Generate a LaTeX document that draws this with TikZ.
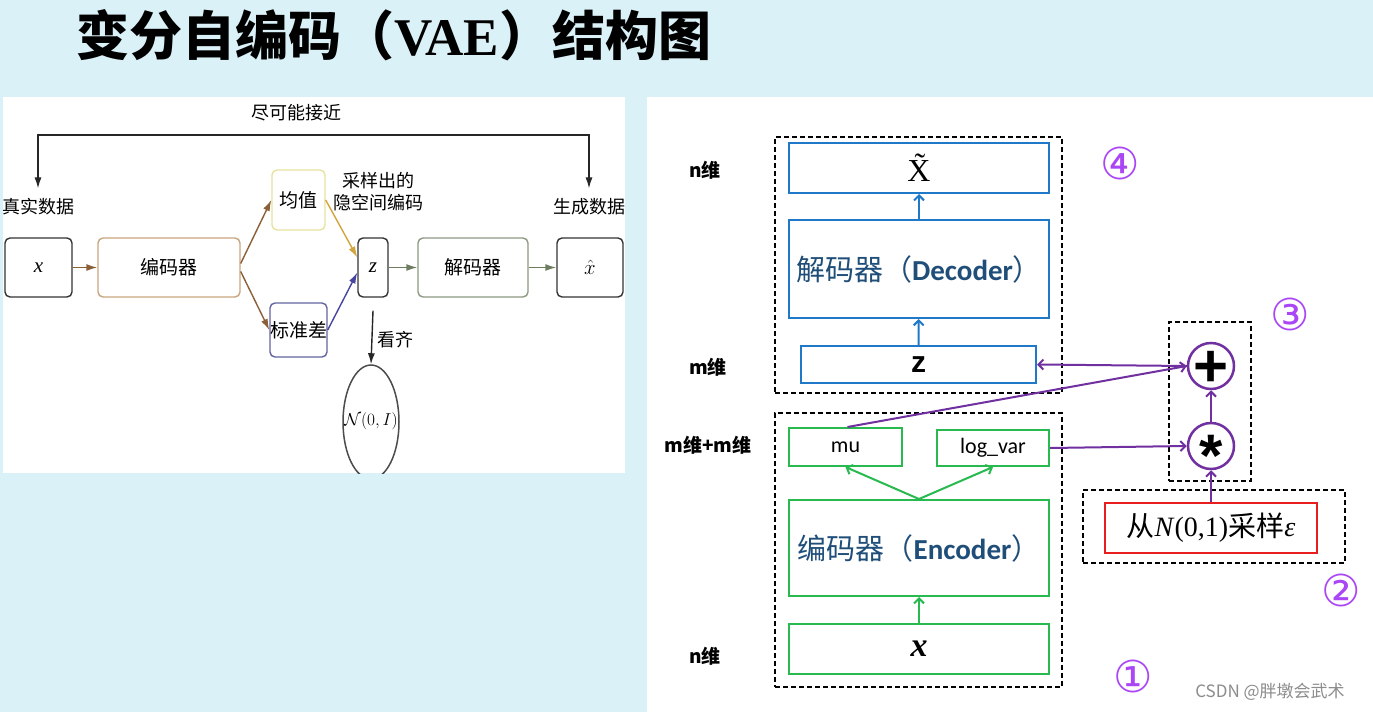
\documentclass[tikz,border=0pt]{standalone}
\usepackage{fontspec}
\setmainfont{Liberation Serif}
\setsansfont{Carlito}
\newfontfamily\cjk{Noto Sans CJK SC}
\newfontfamily\djv{DejaVu Sans}
\newfontfamily\lsans{Liberation Sans}
\usetikzlibrary{arrows.meta,shapes.geometric}
\definecolor{bgc}{RGB}{218,241,247}
\definecolor{bluec}{RGB}{31,120,200}
\definecolor{greenc}{RGB}{40,186,78}
\definecolor{purc}{RGB}{112,48,160}
\definecolor{numc}{RGB}{170,70,245}
\definecolor{dbluec}{RGB}{31,78,121}
\definecolor{redc}{RGB}{232,30,30}
\definecolor{brownc}{RGB}{139,95,55}
\definecolor{encc}{RGB}{200,165,125}
\definecolor{meanc}{RGB}{232,226,160}
\definecolor{stdc}{RGB}{100,100,160}
\definecolor{goldc}{RGB}{210,165,60}
\definecolor{sblue}{RGB}{70,70,160}
\definecolor{gdec}{RGB}{110,125,95}
\definecolor{decc}{RGB}{140,155,130}
\begin{document}
\begin{tikzpicture}[x=1pt,y=-1pt,
  lbox/.style={draw, rounded corners=5pt, line width=1.4pt, inner sep=0pt, font=\cjk\fontsize{19}{19}\selectfont},
  ltxt/.style={inner sep=0pt, font=\cjk\fontsize{18}{18}\selectfont},
  rbox/.style={draw, line width=2pt, inner sep=0pt},
  dbox/.style={draw, dashed, dash pattern=on 5pt off 3pt, line width=1.5pt, inner sep=0pt},
  larr/.style={-{Latex[length=11pt,width=7pt]}, line width=1.4pt},
  rarr/.style={-{Straight Barb[length=5pt,width=10pt]}, line width=2pt},
  dimlbl/.style={inner sep=0pt, font=\cjk\bfseries\fontsize{19}{19}\selectfont},
  cnum/.style={inner sep=0pt, text=numc, font=\djv\fontsize{44}{44}\selectfont},
  opc/.style={circle, draw=purc, line width=2.5pt, fill=white, minimum size=46pt, inner sep=0pt},
  optxt/.style={inner sep=0pt, anchor=base, font=\lsans\bfseries\fontsize{60}{60}\selectfont}
]
\useasboundingbox (0,0) rectangle (1373,712);
\fill[bgc] (0,0) rectangle (1373,712);
\fill[white] (3,97) rectangle (625,473);
\fill[white] (647,97) rectangle (1373,712);

% title
\node[anchor=west, inner sep=0pt] (title) at (76,35) {\fontsize{53}{53}\selectfont\cjk\bfseries 变分自编码（{\rmfamily VAE}）结构图};

% ---------- left panel ----------
\node[lbox, draw=black!80, minimum width=67pt, minimum height=59pt] (lx) at (38.5,267.5) {\rmfamily\itshape\fontsize{21}{21}\selectfont x};
\node[lbox, draw=encc, minimum width=142pt, minimum height=59pt] (lenc) at (169,267.5) {编码器};
\node[lbox, draw=meanc, minimum width=53pt, minimum height=60pt] (lmean) at (298.5,200) {均值};
\node[lbox, draw=stdc, minimum width=53pt, minimum height=54pt] (lstd) at (298.5,330) {标准差};
\node[lbox, draw=black!80, minimum width=30pt, minimum height=59pt] (lz) at (373,267.5) {\rmfamily\itshape\fontsize{21}{21}\selectfont z};
\node[lbox, draw=decc, minimum width=110pt, minimum height=59pt] (ldec) at (473,267.5) {解码器};
\node[lbox, draw=black!80, minimum width=66pt, minimum height=59pt] (lxh) at (590,267.5) {\fontsize{21}{21}\selectfont$\hat{x}$};

\node[ltxt] (lreal) at (38,207) {真实数据};
\node[ltxt] (lgen) at (589,207) {生成数据};
\node[ltxt] (lclose) at (296,113) {尽可能接近};
\node[ltxt, align=center] (lsamp) at (378,192) {采样出的\\[4pt]隐空间编码};
\node[ltxt] (lalign) at (395,340) {看齐};
\coordinate (tl) at (38,135);
\coordinate (tr) at (590,135);
\draw[larr, black!85] (tr) -| ([yshift=10pt]lreal.north);
\draw[larr, black!85] (tl) -| ([yshift=10pt]lgen.north);

\draw[larr, brownc] (lx) -- (lenc);
\draw[larr, brownc] ([yshift=4pt]lenc.east) -- (lmean.west);
\draw[larr, brownc] ([yshift=-4pt]lenc.east) -- (lstd.west);
\draw[larr, goldc] (lmean.east) -- ([yshift=10pt]lz.west);
\draw[larr, sblue] (lstd.east) -- ([yshift=-5pt]lz.west);
\draw[larr, gdec] (lz) -- (ldec);
\draw[larr, gdec] (ldec) -- (lxh);

\begin{scope}
\clip (3,97) rectangle (625,473);
\node[draw=black!70, line width=1.5pt, ellipse, minimum width=56pt, minimum height=114pt, inner sep=0pt] (lnorm) at (371,422) {};
\end{scope}
\node[inner sep=0pt, font=\fontsize{19}{19}\selectfont] (lnormt) at (371,421) {$\mathcal{N}(0,I)$};
\draw[larr, black!85] ([yshift=-13pt]lz.south) -- (lnorm.north);

% ---------- right panel ----------
\node[dbox, minimum width=287pt, minimum height=256pt] (decg) at (918.5,265) {};
\node[dbox, minimum width=287pt, minimum height=274pt] (encg) at (918.5,550) {};

\node[rbox, draw=bluec, minimum width=260pt, minimum height=50pt, fill=white] (xt) at (919,168) {\fontsize{32}{32}\selectfont\~{X}};
\node[rbox, draw=bluec, minimum width=260pt, minimum height=98pt] (dec) at (919,269) {\fontsize{29}{29}\selectfont\color{dbluec}\raisebox{-6pt}{\cjk 解码器（{\sffamily\bfseries Decoder}）}};
\node[rbox, draw=bluec, minimum width=235pt, minimum height=37pt] (zb) at (918.5,364.5) {\lsans\bfseries\fontsize{30}{30}\selectfont z};
\draw[rarr, bluec] (dec) -- (xt);
\draw[rarr, bluec] (zb) -- (dec);

\node[rbox, draw=greenc, minimum width=113pt, minimum height=38pt] (mu) at (845.5,447) {\sffamily\fontsize{22}{22}\selectfont mu};
\node[rbox, draw=greenc, minimum width=112pt, minimum height=36pt] (lv) at (993,448) {\sffamily\fontsize{22}{22}\selectfont log\_var};
\node[rbox, draw=greenc, minimum width=260pt, minimum height=96pt] (enc) at (919,548) {\fontsize{29}{29}\selectfont\color{dbluec}\cjk 编码器（{\sffamily\bfseries Encoder}）};
\node[rbox, draw=greenc, minimum width=260pt, minimum height=50pt] (xb) at (919,649) {\bfseries\itshape\fontsize{34}{34}\selectfont x};
\draw[rarr, greenc] (xb) -- (enc);
\draw[rarr, greenc] (enc.north) -- (mu.south);
\draw[rarr, greenc] (enc.north) -- (lv.south);

\node[dimlbl] (d1) at (705,170) {n维};
\node[dimlbl] (d2) at (708,367) {m维};
\node[dimlbl] (d3) at (708,445) {m维+m维};
\node[dimlbl] (d4) at (705,656) {n维};

\node[dbox, minimum width=82pt, minimum height=159pt] (g3) at (1210,401.5) {};
\node[dbox, minimum width=262pt, minimum height=73pt] (g2) at (1214,526.5) {};
\node[opc] (plus) at (1211,366) {};
\node[opc] (star) at (1211,446) {};
\node[optxt] (plust) at (1211,386) {+};
\node[optxt] (start) at (1211,476) {*};
\node[draw=redc, line width=2pt, minimum width=212pt, minimum height=50pt, inner sep=0pt] (red) at (1211,528) {\fontsize{28}{28}\selectfont{\cjk 从}\textit{N}(0,1){\cjk 采样}\textit{ε}};

\draw[rarr, purc] (star) -- (plus);
\draw[rarr, purc] (red) -- (star);
\draw[rarr, purc] (lv.east) -- (star.west);
\draw[rarr, purc] ([xshift=2pt]mu.north) -- (plus.west);
\draw[rarr, purc] (plus.west) -- (zb.east);

\node[cnum] (n4) at (1120,163) {④};
\node[cnum] (n3) at (1290,314) {③};
\node[cnum] (n2) at (1341,590) {②};
\node[cnum] (n1) at (1133,676) {①};

\node[inner sep=0pt, text=black!45, font=\cjk\fontsize{17}{17}\selectfont] (wm) at (1270,692) {CSDN @胖墩会武术};
\end{tikzpicture}
\end{document}
